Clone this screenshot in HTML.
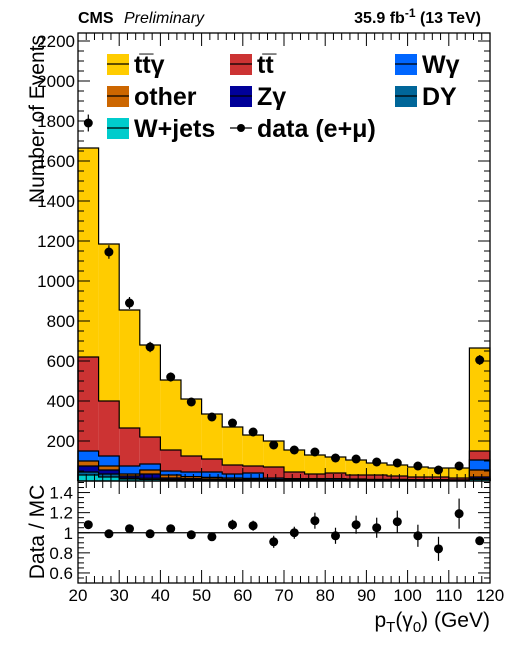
<!DOCTYPE html>
<html><head><meta charset="utf-8"><style>
html,body{margin:0;padding:0;background:#fff}
svg{display:block;font-family:"Liberation Sans",sans-serif}
</style></head><body>
<svg id="c" width="516" height="672" viewBox="0 0 516 672" xmlns="http://www.w3.org/2000/svg">
<text x="78" y="23" font-size="16" font-weight="bold">CMS</text>
<text x="124" y="23" font-size="16" font-style="italic">Preliminary</text>
<text x="481" y="23" font-size="16" font-weight="bold" text-anchor="end">35.9 fb<tspan dy="-6" font-size="12">-1</tspan><tspan dy="6"> (13 TeV)</tspan></text>
<g id="main"></g>
<g id="ratio"></g>
<g id="legend"></g>
<text transform="translate(44,35) rotate(-90)" font-size="21" text-anchor="end">Number of Events</text>
<text transform="translate(44,532) rotate(-90)" font-size="21" text-anchor="middle">Data / MC</text>
<text x="490" y="627" font-size="21" text-anchor="end">p<tspan dy="5" font-size="15">T</tspan><tspan dy="-5">(γ</tspan><tspan dy="5" font-size="15">0</tspan><tspan dy="-5">) (GeV)</tspan></text>
</svg>
<script>
const binEdges=[20,25,30,35,40,45,50,55,60,65,70,75,80,85,90,95,100,105,110,115,120];
const wjets=[30,20,10,8,5,5,4,3,3,2,2,2,2,2,2,1,1,1,1,8];
const dy=[15,15,5,6,3,2,1,1,1,1,1,1,1,0,0,1,1,1,1,4];
const zgamma=[30,20,10,21,7,5,5,4,4,3,2,2,1,2,1,1,1,1,1,8];
const other=[25,20,10,20,15,10,8,7,5,2,2,2,2,2,2,2,1,1,1,35];
const wgamma=[50,50,40,30,20,23,27,20,27,7,5,5,6,4,3,3,3,3,2,50];
const ttbar=[470,275,190,135,105,80,65,45,35,55,33,23,28,20,22,17,13,13,9,45];
const ttgamma=[1045,785,590,460,350,285,225,190,155,130,110,95,80,75,60,55,50,45,50,515];
const dataVals=[1790,1145,890,670,520,395,320,290,245,180,155,145,115,110,95,90,75,55,75,605];
const ratioVals=[1.08,0.99,1.04,0.99,1.04,0.98,0.96,1.08,1.07,0.91,1.00,1.12,0.97,1.08,1.05,1.11,0.97,0.84,1.19,0.92];
const ratioErr=[0.02,0.02,0.02,0.02,0.03,0.03,0.03,0.05,0.05,0.06,0.06,0.08,0.08,0.09,0.10,0.11,0.11,0.12,0.15,0.03];
const yTicks=[200,400,600,800,1000,1200,1400,1600,1800,2000,2200];
const rTicks=[0.6,0.8,1.0,1.2,1.4];
const rTickLabels=["0.6","0.8","1","1.2","1.4"];
const xTicks=[20,30,40,50,60,70,80,90,100,110,120];

const NS="http://www.w3.org/2000/svg";
const L=78,R=490,MT=33,MB=481,RT=481,RB=583;
const X=v=>L+(v-20)*(R-L)/100;
const Y=v=>MB-v*(MB-MT)/2240;
const RY=v=>RB-(v-0.5)*(RB-RT)/1.015;
function mk(p,tag,at){const e=document.createElementNS(NS,tag);for(const k in at)e.setAttribute(k,at[k]);p.appendChild(e);return e;}
const main=document.getElementById('main'),ratio=document.getElementById('ratio'),leg=document.getElementById('legend');

const comps=[["wjets",wjets,"#00cccc"],["dy",dy,"#006699"],["zgamma",zgamma,"#000099"],["other",other,"#cc6600"],["wgamma",wgamma,"#0066ff"],["ttbar",ttbar,"#cc3333"],["ttgamma",ttgamma,"#ffcc00"]];
const cum=new Array(20).fill(0);
const tops=[];
comps.forEach(c=>{const lo=cum.slice();for(let i=0;i<20;i++)cum[i]+=c[1][i];tops.push([c,lo,cum.slice()]);});
tops.forEach(([c,lo,hi])=>{
  for(let i=0;i<20;i++){
    const r=mk(main,'rect',{x:X(binEdges[i]),y:Y(hi[i]),width:X(binEdges[i+1])-X(binEdges[i]),height:Y(lo[i])-Y(hi[i]),fill:c[2]});
    
    
  }
});
tops.forEach(([c,lo,hi])=>{
  let d='M'+X(20)+','+Y(0);
  for(let i=0;i<20;i++){d+='L'+X(binEdges[i])+','+Y(hi[i])+'L'+X(binEdges[i+1])+','+Y(hi[i]);}
  d+='L'+X(120)+','+Y(0);
  const p=mk(main,'path',{d:d,fill:'none',stroke:'#000','stroke-width':1.2});
  
  
});
for(let i=0;i<20;i++){
  const cx=(X(binEdges[i])+X(binEdges[i+1]))/2,v=dataVals[i],e=Math.sqrt(v);
  const g=mk(main,'g',{});
  
  
  mk(g,'line',{x1:cx,x2:cx,y1:Y(v+e),y2:Y(v-e),stroke:'#000','stroke-width':1.2});
  mk(g,'circle',{cx:cx,cy:Y(v),r:4.5,fill:'#000'});
}
function frame(p,top,bot){mk(p,'rect',{x:L,y:top,width:R-L,height:bot-top,fill:'none',stroke:'#000','stroke-width':1.3});}
frame(main,MT,MB);
for(let v=0;v<=2240;v+=50){const y=Y(v),len=v%200==0?12:6;mk(main,'line',{x1:L,x2:L+len,y1:y,y2:y,stroke:'#000'});mk(main,'line',{x1:R,x2:R-len,y1:y,y2:y,stroke:'#000'});}
for(let v=20;v<=120;v+=2){const x=X(v),len=v%10==0?13:7;mk(main,'line',{x1:x,x2:x,y1:MB,y2:MB-len,stroke:'#000'});mk(main,'line',{x1:x,x2:x,y1:MT,y2:MT+len,stroke:'#000'});}
yTicks.forEach(v=>{const t=mk(main,'text',{x:L-3,y:Y(v)+6,'font-size':17,'text-anchor':'end'});t.textContent=v;});
frame(ratio,RT,RB);
for(let v=0.5;v<=1.51;v+=0.05){const y=RY(v),len=Math.abs(v*5-Math.round(v*5))<0.01?12:6;mk(ratio,'line',{x1:L,x2:L+len,y1:y,y2:y,stroke:'#000'});mk(ratio,'line',{x1:R,x2:R-len,y1:y,y2:y,stroke:'#000'});}
for(let v=20;v<=120;v+=2){const x=X(v),len=v%10==0?13:7;mk(ratio,'line',{x1:x,x2:x,y1:RB,y2:RB-len,stroke:'#000'});mk(ratio,'line',{x1:x,x2:x,y1:RT,y2:RT+len,stroke:'#000'});}
mk(ratio,'line',{x1:L,x2:R,y1:RY(1),y2:RY(1),stroke:'#000','stroke-width':1.2});
rTicks.forEach((v,i)=>{const t=mk(ratio,'text',{x:L-5,y:RY(v)+6,'font-size':17,'text-anchor':'end'});t.textContent=rTickLabels[i];});
xTicks.forEach(v=>{const t=mk(ratio,'text',{x:X(v),y:601,'font-size':17,'text-anchor':'middle'});t.textContent=v;});
for(let i=0;i<20;i++){
  const cx=(X(binEdges[i])+X(binEdges[i+1]))/2,v=ratioVals[i],e=ratioErr[i];
  const g=mk(ratio,'g',{});
  
  
  mk(g,'line',{x1:cx,x2:cx,y1:RY(v+e),y2:RY(v-e),stroke:'#000','stroke-width':1.2});
  mk(g,'circle',{cx:cx,cy:RY(v),r:4.5,fill:'#000'});
}
const legItems=[["tt\u0305γ","#ffcc00",107,64],["tt\u0305","#cc3333",230,64],["Wγ","#0066ff",395,64],["other","#cc6600",107,96],["Zγ","#000099",230,96],["DY","#006699",395,96],["W+jets","#00cccc",107,128]];
legItems.forEach(([lab,col,x,y])=>{
  const g=mk(leg,'g',{});
  
  
  mk(g,'rect',{x:x,y:y-10,width:22,height:21,fill:col});
  mk(g,'line',{x1:x,x2:x+22,y1:y,y2:y,stroke:'#000','stroke-width':1.2});
  const t=mk(g,'text',{x:x+27,y:y+9,'font-size':25,'font-weight':'bold'});t.textContent=lab;
});
const gd=mk(leg,'g',{});


mk(gd,'line',{x1:230,x2:252,y1:128,y2:128,stroke:'#000','stroke-width':1.2});
mk(gd,'circle',{cx:241,cy:128,r:4,fill:'#000'});
const td=mk(gd,'text',{x:257,y:137,'font-size':25,'font-weight':'bold'});td.textContent='data (e+μ)';
</script>
</body></html>
